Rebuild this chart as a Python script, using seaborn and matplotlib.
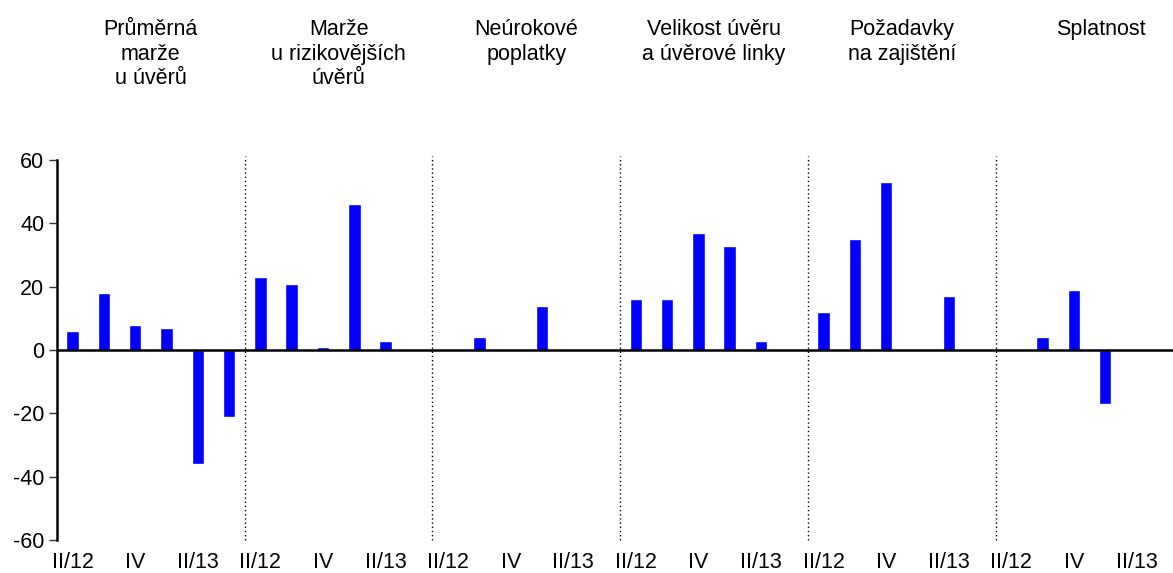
import numpy as np
import pandas as pd
import matplotlib
matplotlib.use("Agg")
import matplotlib.pyplot as plt
import seaborn as sns

# Data
groups = ["Průměrná\nmarže\nu úvěrů", "Marže\nu rizikovějších\núvěrů", "Neúrokové\npoplatky",
          "Velikost úvěru\na úvěrové linky", "Požadavky\nna zajištění", "Splatnost"]
quarters = ["II/12", "III", "IV", "I/13", "II/13", "III/13"]
tick_labels = ["II/12", "", "IV", "", "II/13", ""]

marze = [6, 18, 8, 7, -36, -21]
marze_riziko = [23, 21, 1, 46, 3, 0]
poplatky = [0, 4, 0, 14, 0, 0]
velikost = [16, 16, 37, 33, 3, 0]
zajisteni = [12, 35, 53, 0, 17, 0]
splatnost = [0, 4, 19, -17, 0, 0]
series = [marze, marze_riziko, poplatky, velikost, zajisteni, splatnost]

rows = []
for gi, vals in enumerate(series):
    for qi, v in enumerate(vals):
        rows.append({"pos": gi * len(quarters) + qi, "value": v})
df = pd.DataFrame(rows)

sns.set_style("white")
plt.rcParams["font.family"] = ["Liberation Sans", "DejaVu Sans"]
plt.rcParams["axes.unicode_minus"] = False
plt.rcParams["text.color"] = "black"
plt.rcParams["xtick.color"] = "black"
plt.rcParams["ytick.color"] = "black"

fig = plt.figure(figsize=(11.73, 5.73), dpi=100)
ax = fig.add_axes([57 / 1173, 33 / 573, 1116 / 1173, 380 / 573])

sns.barplot(data=df, x="pos", y="value", native_scale=True, color="#0000FF",
            width=0.4, saturation=1, ax=ax)

n = len(quarters)
ax.set_xlim(-0.5, -0.5 + 1116 / 31.29)
ax.set_ylim(-60, 60)
ax.set_yticks(range(-60, 61, 20))
ax.set_xticks(range(len(df)))
ax.set_xticklabels(tick_labels * len(groups))
ax.tick_params(axis="x", length=0, labelsize=15.5, pad=9)
ax.tick_params(axis="y", length=6, width=1, color="#333333", labelsize=15.5, left=True, pad=3)
ax.set_xlabel("")
ax.set_ylabel("")

for s in ["top", "right", "bottom"]:
    ax.spines[s].set_visible(False)
ax.spines["left"].set_linewidth(1.8)
ax.spines["left"].set_color("black")

ax.axhline(0, color="black", lw=1.8, zorder=3)
for gi in range(1, len(groups)):
    ax.axvline(gi * n - 0.5, ymin=0, ymax=1.01, color="black", ls=(0, (1, 2)), lw=1, clip_on=False)

trans = matplotlib.transforms.blended_transform_factory(ax.transData, ax.transAxes)
for gi, g in enumerate(groups):
    xc = gi * n + (n - 1) / 2
    if gi == len(groups) - 1:
        xc += 0.35
    ax.text(xc, 1.37, g, transform=trans, ha="center", va="top", fontsize=15.5,
            linespacing=1.2)

plt.savefig("out.png", dpi=100)
